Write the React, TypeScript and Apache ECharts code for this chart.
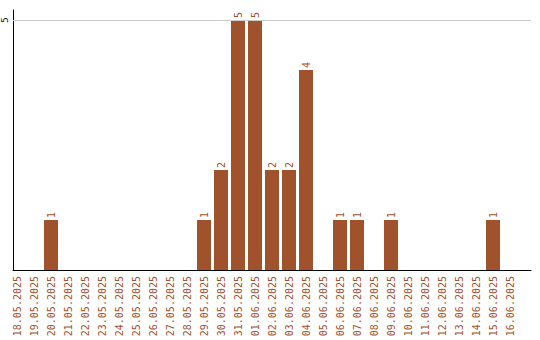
import React, { useEffect, useRef } from "react";
import * as echarts from "echarts";

const dates: string[] = [
  "18.05.2025", "19.05.2025", "20.05.2025", "21.05.2025", "22.05.2025",
  "23.05.2025", "24.05.2025", "25.05.2025", "26.05.2025", "27.05.2025",
  "28.05.2025", "29.05.2025", "30.05.2025", "31.05.2025", "01.06.2025",
  "02.06.2025", "03.06.2025", "04.06.2025", "05.06.2025", "06.06.2025",
  "07.06.2025", "08.06.2025", "09.06.2025", "10.06.2025", "11.06.2025",
  "12.06.2025", "13.06.2025", "14.06.2025", "15.06.2025", "16.06.2025",
];

const counts: number[] = [
  0, 0, 1, 0, 0,
  0, 0, 0, 0, 0,
  0, 1, 2, 5, 5,
  2, 2, 4, 0, 1,
  1, 0, 1, 0, 0,
  0, 0, 0, 1, 0,
];

const yMax = 5.2;
const yTick = 5;

export default function App() {
  const ref = useRef<HTMLDivElement>(null);
  useEffect(() => {
    if (!ref.current) return;
    const chart = echarts.init(ref.current, undefined, { renderer: "svg" });
    const brown = "#a0522d";
    const font = "DejaVu Sans Mono";
    chart.setOption({
      animation: false,
      backgroundColor: "#ffffff",
      grid: [
        { left: 11, right: 9, top: 10, bottom: 70 },
        { left: 8.5, width: 510, top: 10, bottom: 70 },
      ],
      xAxis: [
        {
          type: "category",
          gridIndex: 0,
          data: [""],
          axisLine: { show: true, lineStyle: { color: "#000", width: 1 } },
          axisTick: { show: false },
          axisLabel: { show: false },
          splitLine: { show: false },
        },
        {
          type: "category",
          gridIndex: 1,
          data: dates,
          axisLine: { show: false },
          axisTick: { show: false },
          axisLabel: {
            interval: 0,
            rotate: 90,
            margin: 6,
            color: brown,
            fontFamily: font,
            fontSize: 10,
          },
          splitLine: { show: false },
        },
      ],
      yAxis: [
        {
          type: "value",
          gridIndex: 0,
          min: 0,
          max: yMax,
          interval: yTick,
          axisLine: { show: true, lineStyle: { color: "#000", width: 1 } },
          axisTick: { show: false },
          splitLine: { show: false },
          axisLabel: {
            rotate: 90,
            margin: 4,
            color: "#000",
            fontFamily: font,
            fontSize: 9,
            formatter: (v: number) => (v === yTick ? String(v) : ""),
          },
        },
        {
          type: "value",
          gridIndex: 1,
          min: 0,
          max: yMax,
          show: false,
        },
      ],
      series: [
        {
          type: "line",
          xAxisIndex: 0,
          yAxisIndex: 0,
          data: [],
          silent: true,
          markLine: {
            silent: true,
            symbol: "none",
            label: { show: false },
            lineStyle: { color: "#cccccc", type: "solid", width: 1 },
            data: [{ yAxis: yTick }],
          },
        },
        {
          type: "bar",
          xAxisIndex: 1,
          yAxisIndex: 1,
          data: counts,
          barWidth: 14,
          itemStyle: { color: brown },
          label: {
            show: true,
            position: "top",
            rotate: 90,
            align: "left",
            verticalAlign: "middle",
            distance: 2,
            color: brown,
            fontFamily: font,
            fontSize: 10,
            formatter: (p: any) => (p.value ? String(p.value) : ""),
          },
        },
      ],
    });
    return () => chart.dispose();
  }, []);
  return (
    <div
      ref={ref}
      style={{ position: "fixed", left: 0, top: 0, width: 540, height: 340 }}
    />
  );
}
